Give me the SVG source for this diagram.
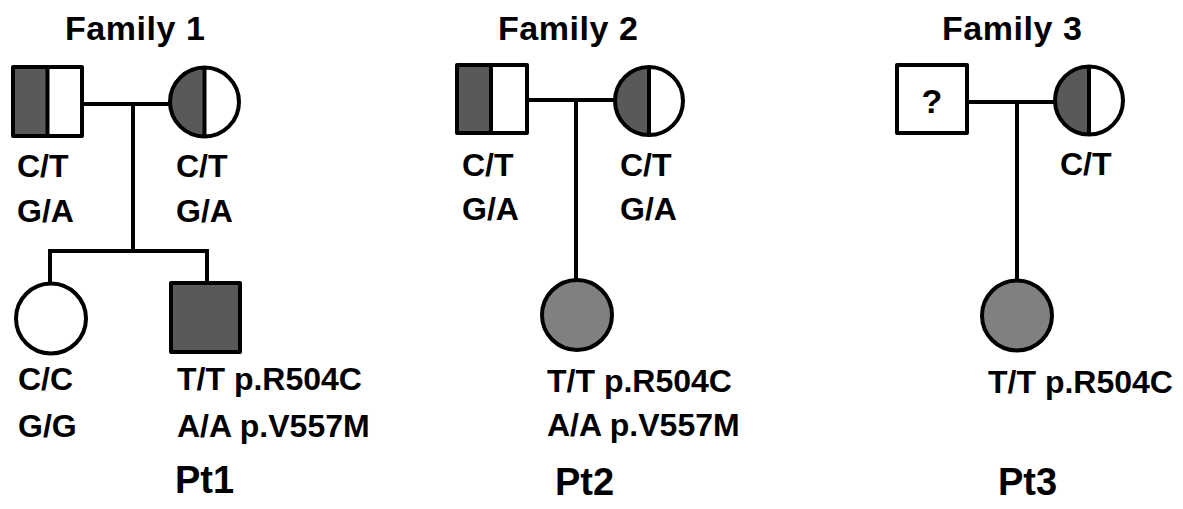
<svg xmlns="http://www.w3.org/2000/svg" width="1183" height="509" viewBox="0 0 1183 509">
<style>
.t{font-family:"Liberation Sans",Arial,sans-serif;font-weight:bold;fill:#000;font-size:32px}
.h{font-family:"Liberation Sans",Arial,sans-serif;font-weight:bold;fill:#000;font-size:34px}
.p{font-family:"Liberation Sans",Arial,sans-serif;font-weight:bold;fill:#000;font-size:38px}
.s{stroke:#000;stroke-width:4;fill:none;stroke-linejoin:round}
.w{stroke:#000;stroke-width:4;fill:#fff;stroke-linejoin:round}
.d{fill:#595959}
.g{stroke:#000;stroke-width:4;fill:#808080}
.c{stroke:#000;stroke-width:4;fill:none;stroke-linecap:butt}
</style>
<rect width="1183" height="509" fill="#fff"/>
<g id="connectors">
<path class="c" d="M82 104H170M133 104V251M50 251H207M50 249V283M207 249V283"/>
<path class="c" d="M527 100H615M576 100V281"/>
<path class="c" d="M967 102H1055M1017 102V281"/>
</g>
<g id="titles">
<text class="h" x="135" y="40" text-anchor="middle" textLength="140">Family 1</text>
<text class="h" x="568" y="40" text-anchor="middle" textLength="140">Family 2</text>
<text class="h" x="1012" y="40" text-anchor="middle" textLength="140">Family 3</text>
</g>
<g id="f1-father">
<rect x="13" y="67" width="34.5" height="69" class="d"/>
<rect x="13" y="67" width="69" height="69" class="s"/>
<line x1="47.5" y1="67" x2="47.5" y2="136" class="c"/>
<text class="t" x="17" y="177">C/T</text>
<text class="t" x="17" y="222">G/A</text>
</g>
<g id="f1-mother">
<path d="M204.5 67.5A34.5 34.5 0 0 0 204.5 136.5Z" class="d"/>
<circle cx="204.5" cy="102" r="34.5" class="s"/>
<line x1="204.5" y1="67.5" x2="204.5" y2="136.5" class="c"/>
<text class="t" x="176" y="177">C/T</text>
<text class="t" x="176" y="222">G/A</text>
</g>
<g id="f1-daughter">
<circle cx="51" cy="318.5" r="35" class="w"/>
<text class="t" x="18" y="390">C/C</text>
<text class="t" x="18" y="437">G/G</text>
</g>
<g id="pt1">
<rect x="171" y="283" width="69" height="69" class="d" stroke="#000" stroke-width="4" stroke-linejoin="round"/>
<text class="t" x="177" y="390">T/T p.R504C</text>
<text class="t" x="177" y="437">A/A p.V557M</text>
<text class="p" x="175" y="493">Pt1</text>
</g>
<g id="f2-father">
<rect x="457" y="65" width="34" height="68" class="d"/>
<rect x="457" y="65" width="70" height="68" class="s"/>
<line x1="491" y1="65" x2="491" y2="133" class="c"/>
<text class="t" x="462" y="176">C/T</text>
<text class="t" x="462" y="220">G/A</text>
</g>
<g id="f2-mother">
<path d="M649 67A34 34 0 0 0 649 135Z" class="d"/>
<circle cx="649" cy="101" r="34" class="s"/>
<line x1="649" y1="67" x2="649" y2="135" class="c"/>
<text class="t" x="620" y="176">C/T</text>
<text class="t" x="620" y="220">G/A</text>
</g>
<g id="pt2">
<circle cx="577" cy="315" r="35" class="g"/>
<text class="t" x="547" y="392">T/T p.R504C</text>
<text class="t" x="547" y="436">A/A p.V557M</text>
<text class="p" x="555" y="495">Pt2</text>
</g>
<g id="f3-father">
<rect x="897" y="65" width="70" height="68" class="w"/>
<text class="h" x="932" y="113" text-anchor="middle" font-size="26">?</text>
</g>
<g id="f3-mother">
<path d="M1089 66.5A34 34 0 0 0 1089 134.5Z" class="d"/>
<circle cx="1089" cy="100.5" r="34" class="s"/>
<line x1="1089" y1="66.5" x2="1089" y2="134.5" class="c"/>
<text class="t" x="1060" y="175">C/T</text>
</g>
<g id="pt3">
<circle cx="1017" cy="315.5" r="35" class="g"/>
<text class="t" x="988" y="393">T/T p.R504C</text>
<text class="p" x="998" y="495">Pt3</text>
</g>
</svg>
